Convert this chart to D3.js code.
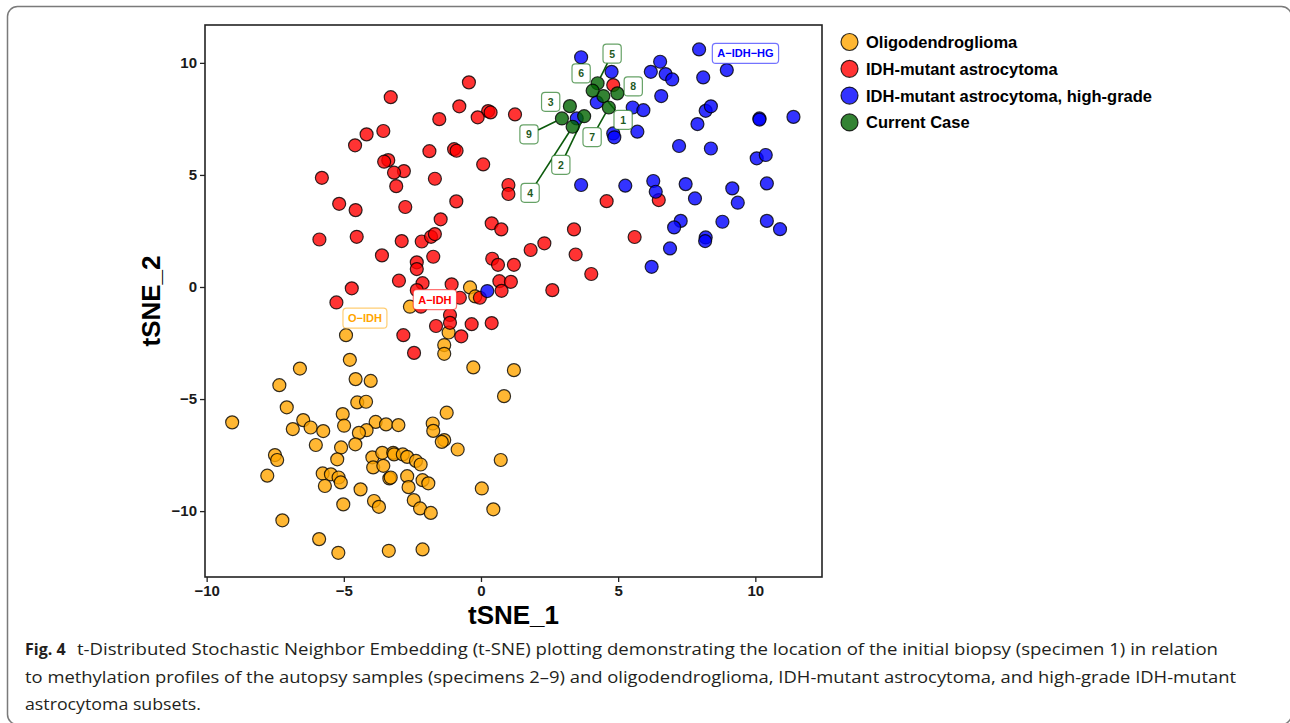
<!DOCTYPE html>
<html>
<head>
<meta charset="utf-8">
<script src="https://cdnjs.cloudflare.com/ajax/libs/d3/7.8.5/d3.min.js"></script>
<style>
  body { margin: 0; background: #fff; }
  svg { display: block; }
  .tick text { font-family: "Liberation Sans", Arial, sans-serif; font-weight: bold; font-size: 15px; fill: #1a1a1a; }
  .tick line { stroke: #222; stroke-width: 1.3; }
</style>
</head>
<body>
<div id="chart"></div>
<script>
// tSNE coordinates
let oligo = [
  [-0.40, -0.02], [-0.21, -0.42], [-2.59, -0.88], [-1.18, -2.03], [-1.34, -2.59], [-1.34, -2.98],
  [-4.92, -2.15], [-4.78, -3.25], [-6.60, -3.64], [-0.28, -3.59], [1.20, -3.71], [-4.57, -4.11],
  [-4.02, -4.19], [-7.35, -4.38], [-7.08, -5.37], [-4.51, -5.15], [-4.19, -5.12], [-5.04, -5.67],
  [-4.99, -6.19], [-9.07, -6.04], [-6.48, -5.94], [-6.21, -6.27], [-6.86, -6.34], [-5.75, -6.43],
  [-3.84, -6.02], [-3.46, -6.13], [-3.01, -6.16], [-4.17, -6.39], [-4.45, -6.51], [-1.76, -6.09],
  [-1.74, -6.42], [-1.25, -5.61], [0.84, -4.87], [-6.02, -7.05], [-5.10, -7.16], [-4.58, -7.02],
  [-1.34, -6.83], [-1.43, -6.91], [-0.85, -7.25], [-7.51, -7.50], [-7.43, -7.72], [-5.24, -7.69],
  [-3.96, -7.60], [-3.93, -8.05], [-3.60, -7.40], [-3.20, -7.40], [-3.17, -7.47], [-2.85, -7.47],
  [-2.69, -7.58], [-2.37, -7.76], [-2.20, -7.92], [-3.56, -7.98], [0.72, -7.72], [-5.77, -8.32],
  [-5.47, -8.36], [-5.19, -8.50], [-5.11, -8.72], [-5.69, -8.88], [-3.34, -8.54], [-3.29, -8.50],
  [-2.69, -8.44], [-2.13, -8.62], [-1.92, -8.76], [-2.64, -8.93], [-7.79, -8.42], [-4.39, -9.03],
  [0.03, -8.99], [-5.02, -9.70], [-3.90, -9.55], [-3.72, -9.81], [-2.45, -9.51], [-2.22, -9.88],
  [-1.83, -10.08], [0.45, -9.92], [-7.24, -10.41], [-5.90, -11.25], [-5.20, -11.86], [-3.36, -11.77],
  [-2.13, -11.71]
];

let astro = [
  [-0.44, 9.13], [-3.29, 8.47], [-0.79, 8.06], [0.26, 7.85], [0.35, 7.79], [1.24, 7.70],
  [-0.12, 7.57], [-1.52, 7.49], [-4.17, 6.81], [-3.56, 6.96], [-4.59, 6.32], [-1.88, 6.06],
  [-0.98, 6.15], [-0.89, 6.08], [-3.38, 5.66], [-3.53, 5.59], [-2.81, 5.17], [-3.17, 5.10],
  [0.08, 5.47], [-1.68, 4.83], [-5.80, 4.87], [1.00, 4.55], [1.00, 4.15], [-3.09, 4.50],
  [-0.90, 3.82], [-5.17, 3.71], [-4.57, 3.43], [-2.76, 3.57], [-1.47, 3.02], [0.39, 2.84],
  [0.74, 2.57], [-5.89, 2.12], [-4.53, 2.24], [-2.89, 2.05], [-2.16, 2.03], [-1.82, 2.24],
  [-1.68, 2.36], [-3.61, 1.41], [-1.74, 1.35], [-2.34, 1.10], [-2.34, 0.80], [0.41, 1.26],
  [0.62, 0.99], [1.20, 0.99], [-2.99, 0.28], [-2.13, 0.17], [-1.07, 0.12], [-2.34, -0.14],
  [0.67, 0.26], [1.09, 0.23], [0.75, -0.17], [-0.77, -0.48], [-0.04, -0.48], [-4.71, -0.06],
  [-5.27, -0.69], [-2.19, -0.88], [-1.13, -1.25], [-1.13, -1.60], [-1.64, -1.74], [-0.34, -1.66],
  [0.39, -1.61], [-0.72, -2.20], [-2.83, -2.15], [-2.44, -2.94], [4.82, 9.01], [4.58, 3.83],
  [6.48, 3.88], [3.39, 2.57], [1.81, 1.65], [2.31, 1.95], [3.45, 1.45], [5.60, 2.23],
  [2.60, -0.14], [4.02, 0.58]
];

let astroHG = [
  [3.65, 10.25], [4.76, 9.60], [6.53, 10.05], [6.19, 9.60], [6.73, 9.50], [6.97, 9.26],
  [7.95, 10.60], [8.10, 9.35], [8.96, 9.68], [6.57, 8.52], [4.22, 8.24], [5.53, 8.01],
  [5.92, 7.89], [8.19, 7.86], [8.38, 8.06], [3.49, 7.52], [7.89, 7.27], [10.15, 7.52],
  [10.15, 7.47], [11.39, 7.59], [4.82, 6.85], [4.86, 6.68], [5.70, 6.93], [7.22, 6.29],
  [8.38, 6.18], [10.05, 5.74], [10.38, 5.89], [3.65, 4.55], [5.26, 4.52], [6.28, 4.73],
  [6.37, 4.25], [7.46, 4.59], [7.80, 3.95], [9.16, 4.40], [9.36, 3.76], [10.42, 4.62],
  [7.28, 2.95], [7.04, 2.66], [8.80, 2.91], [10.42, 2.95], [10.90, 2.58], [8.19, 2.21],
  [8.17, 2.05], [6.89, 1.72], [6.22, 0.90], [0.23, -0.18]
];

// current case, specimens 1..9
let currentCase = [
  [4.46, 8.52], [3.76, 7.62], [3.24, 8.07], [3.34, 7.15], [4.25, 9.09],
  [4.07, 8.76], [4.66, 8.01], [4.97, 8.64], [2.95, 7.52]
];
let specimenIds = ["1", "2", "3", "4", "5", "6", "7", "8", "9"];
// where the repelled labels landed (data units)
let specimenLabelAt = [
  [5.18, 7.46], [2.91, 5.45], [2.54, 8.26], [1.79, 4.20], [4.78, 10.41],
  [3.65, 9.53], [4.05, 6.69], [5.55, 8.95], [1.75, 6.81]
];

let groupNames = ["Oligodendroglioma", "IDH-mutant astrocytoma", "IDH-mutant astrocytoma, high-grade", "Current Case"];
let groupTags = ["O\u2212IDH", "A\u2212IDH", "A\u2212IDH\u2212HG"];
let groupTagAt = [[-4.23, -1.39], [-1.68, -0.56], [9.64, 10.42]];

let xTicks = [-10, -5, 0, 5, 10];
let yTicks = [-10, -5, 0, 5, 10];

let captionLines = [
  "t-Distributed Stochastic Neighbor Embedding (t-SNE) plotting demonstrating the location of the initial biopsy (specimen 1) in relation",
  "to methylation profiles of the autopsy samples (specimens 2\u20139) and oligodendroglioma, IDH-mutant astrocytoma, and high-grade IDH-mutant",
  "astrocytoma subsets."
];

let colors = ["#FFA500", "#FF0000", "#0000FF", "#006400"];
let ptRadius = 6.5;

let panel = { left: 205, right: 822, top: 25, bottom: 577 };
let labelFont = "'Liberation Sans', Arial, sans-serif";

let svg = d3.select("#chart")
    .append("svg")
    .attr("width", 1290)
    .attr("height", 723);

// outer frame of the figure (right and bottom edges fall just outside the view)
svg.append("rect")
    .attr("x", 7.5)
    .attr("y", 6.5)
    .attr("width", 1284)
    .attr("height", 718)
    .attr("rx", 10)
    .attr("fill", "none")
    .attr("stroke", "#7a7a7a")
    .attr("stroke-width", 1.5);

let xScale = d3.scaleLinear().domain([-10.06, 12.43]).range([panel.left, panel.right]);
let yScale = d3.scaleLinear().domain([-12.94, 11.69]).range([panel.bottom, panel.top]);

// axes
svg.append("g")
    .attr("transform", "translate(0," + panel.bottom + ")")
    .call(d3.axisBottom(xScale).tickValues(xTicks).tickSize(5).tickPadding(3))
    .call(g => g.select(".domain").remove());

svg.append("g")
    .attr("transform", "translate(" + panel.left + ",0)")
    .call(d3.axisLeft(yScale).tickValues(yTicks).tickSize(5).tickPadding(3))
    .call(g => g.select(".domain").remove());

// panel border
svg.append("rect")
    .attr("x", panel.left)
    .attr("y", panel.top)
    .attr("width", panel.right - panel.left)
    .attr("height", panel.bottom - panel.top)
    .attr("fill", "none")
    .attr("stroke", "#222")
    .attr("stroke-width", 1.6);

// axis titles
svg.append("text")
    .attr("x", (panel.left + panel.right) / 2)
    .attr("y", 624)
    .attr("text-anchor", "middle")
    .style("font-family", labelFont)
    .style("font-weight", "bold")
    .style("font-size", "26px")
    .text("tSNE_1");

svg.append("text")
    .attr("transform", "translate(160," + ((panel.top + panel.bottom) / 2) + ") rotate(-90)")
    .attr("text-anchor", "middle")
    .style("font-family", labelFont)
    .style("font-weight", "bold")
    .style("font-size", "26px")
    .text("tSNE_2");

// points
let groups = [oligo, astro, astroHG];
let pointLayer = svg.append("g");
groups.forEach((data, i) => {
    pointLayer.selectAll(null)
        .data(data)
        .join("circle")
        .attr("cx", d => xScale(d[0]))
        .attr("cy", d => yScale(d[1]))
        .attr("r", ptRadius)
        .attr("fill", colors[i])
        .attr("fill-opacity", 0.8)
        .attr("stroke", "#000")
        .attr("stroke-opacity", 0.8)
        .attr("stroke-width", 1.2);
});

// a rounded label box centred on (cx, cy); returns half sizes
function drawLabel(layer, cx, cy, txt, textColor, borderColor, fontSize, padX, boxH) {
    let g = layer.append("g");
    let t = g.append("text")
        .attr("x", cx)
        .attr("y", cy)
        .attr("text-anchor", "middle")
        .attr("dominant-baseline", "central")
        .style("font-family", labelFont)
        .style("font-weight", "bold")
        .style("font-size", fontSize + "px")
        .attr("fill", textColor)
        .text(txt);
    let w = t.node().getComputedTextLength() + padX * 2;
    g.insert("rect", "text")
        .attr("x", cx - w / 2)
        .attr("y", cy - boxH / 2)
        .attr("width", w)
        .attr("height", boxH)
        .attr("rx", 3.5)
        .attr("fill", "#fff")
        .attr("stroke", borderColor)
        .attr("stroke-width", 1.2);
    return [w / 2, boxH / 2];
}

// segments from specimen labels to their points
let segLayer = svg.append("g");
let caseLayer = svg.append("g");
let labelLayer = svg.append("g");

caseLayer.selectAll("circle")
    .data(currentCase)
    .join("circle")
    .attr("cx", d => xScale(d[0]))
    .attr("cy", d => yScale(d[1]))
    .attr("r", ptRadius)
    .attr("fill", colors[3])
    .attr("fill-opacity", 0.8)
    .attr("stroke", "#000")
    .attr("stroke-opacity", 0.8)
    .attr("stroke-width", 1.2);

specimenIds.forEach((id, i) => {
    let lx = xScale(specimenLabelAt[i][0]);
    let ly = yScale(specimenLabelAt[i][1]);
    let half = drawLabel(labelLayer, lx, ly, id, "#1f5a1f", "rgba(0,100,0,0.6)", 10.5, 6.2, 19);
    let px = xScale(currentCase[i][0]);
    let py = yScale(currentCase[i][1]);
    let dx = px - lx, dy = py - ly;
    let len = Math.sqrt(dx * dx + dy * dy);
    let t = Math.min(half[0] / Math.abs(dx || 1e-6), half[1] / Math.abs(dy || 1e-6));
    let visible = len * (1 - t) - ptRadius;
    if (visible > 6) {
        segLayer.append("line")
            .attr("x1", lx + dx * t)
            .attr("y1", ly + dy * t)
            .attr("x2", px - dx / len * ptRadius)
            .attr("y2", py - dy / len * ptRadius)
            .attr("stroke", "#0b5a0b")
            .attr("stroke-width", 1.6);
    }
});

groupTags.forEach((tag, i) => {
    let borderColor = d3.color(colors[i]).copy({ opacity: 0.55 });
    drawLabel(labelLayer, xScale(groupTagAt[i][0]), yScale(groupTagAt[i][1]), tag,
        colors[i], borderColor, 11, 5, 20);
});

// legend
let legend = svg.append("g");
groupNames.forEach((name, i) => {
    let ly = 42 + i * 26.8;
    legend.append("circle")
        .attr("cx", 849.5)
        .attr("cy", ly)
        .attr("r", 8.5)
        .attr("fill", colors[i])
        .attr("fill-opacity", 0.8)
        .attr("stroke", "#000")
        .attr("stroke-opacity", 0.8)
        .attr("stroke-width", 1.2);
    legend.append("text")
        .attr("x", 866)
        .attr("y", ly)
        .attr("dominant-baseline", "central")
        .style("font-family", labelFont)
        .style("font-weight", "bold")
        .style("font-size", "16.5px")
        .text(name);
});

// caption
let capFont = "'Open Sans', 'Noto Sans', sans-serif";
svg.append("text")
    .attr("x", 25)
    .attr("y", 655)
    .style("font-family", capFont)
    .style("font-weight", "bold")
    .style("font-size", "16px")
    .attr("fill", "#231f20")
    .text("Fig. 4");

let capStarts = [77, 25, 25];
let capWidths = [1141, 1211, 176];
captionLines.forEach((line, i) => {
    svg.append("text")
        .attr("x", capStarts[i])
        .attr("y", 655 + i * 27.5)
        .attr("textLength", capWidths[i])
        .attr("lengthAdjust", "spacingAndGlyphs")
        .style("font-family", capFont)
        .style("font-size", "16px")
        .attr("fill", "#231f20")
        .text(line);
});
</script>
</body>
</html>
